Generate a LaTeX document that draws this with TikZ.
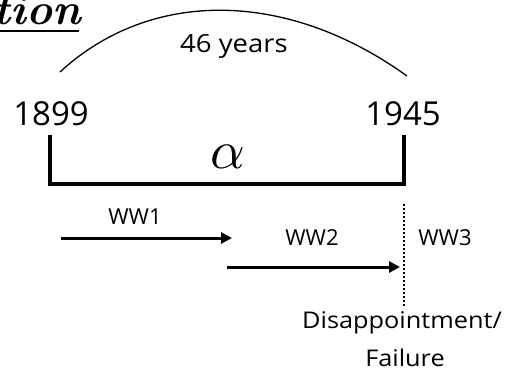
\documentclass[tikz,border=0pt]{standalone}
\usepackage{fontspec}
\usepackage{graphicx}
\setmainfont{Open Sans}
\newfontfamily\widesans[FakeStretch=1.1]{Open Sans}
\usetikzlibrary{arrows.meta}
\tikzset{
  lbl/.style={inner sep=0pt, font=\fontsize{22}{27}\selectfont},
  widelbl/.style={inner sep=0pt, font=\widesans\fontsize{23}{28}\selectfont},
  year/.style={inner sep=0pt, font=\fontsize{33}{38}\selectfont},
  tline/.style={line width=3pt, -{Triangle[length=11pt,width=11pt]}},
}
\begin{document}
\begin{tikzpicture}[x=1pt,y=-1pt]
\useasboundingbox (0,0) rectangle (525,372);
% clipped title
\node[inner sep=0pt, anchor=base east] (title) at (81,24) {\fontspec{Latin Modern Roman}\fontsize{44}{50}\selectfont\bfseries\itshape ption};
\coordinate (ulL) at (0,31);
\coordinate (ulR) at (79,31);
\draw[line width=1.3pt] (ulL) -- (ulR);
% arc
\coordinate (arcL) at (60,72);
\coordinate (arcR) at (407,76);
\draw[line width=1.3pt] (arcL) .. controls (150,-11) and (286,-11) .. (arcR);
\node[widelbl, anchor=base, font=\widesans\fontsize{25}{30}\selectfont] (yrs) at (234,52) {46 years};
% years
\node[year, anchor=base] (y1) at (51,125) {1899};
\node[year, anchor=base] (y2) at (403,125) {1945};
% bracket
\coordinate (bL) at (50,137);
\coordinate (bR) at (404,137);
\draw[line width=4pt, line cap=rect] (bL) -- (50,183.5) -- (404,183.5) -- (bR);
\node[inner sep=0pt] (alpha) at (227.5,157) {\scalebox{5.4}{$\alpha$}};
% arrows
\coordinate (a1s) at (61,238);
\coordinate (a1e) at (232,238);
\draw[tline] (a1s) -- (a1e);
\node[lbl, anchor=base] (ww1) at (135,224) {WW1};
\coordinate (a2s) at (227,267);
\coordinate (a2e) at (400,267);
\draw[tline] (a2s) -- (a2e);
\node[lbl, anchor=base] (ww2) at (312,245) {WW2};
\node[lbl, anchor=base] (ww3) at (445,245) {WW3};
\coordinate (dT) at (404,204);
\coordinate (dB) at (404,306);
\draw[line width=2.5pt, dash pattern=on 2pt off 2pt] (dT) -- (dB);
\node[widelbl, anchor=base] (dis) at (402,328) {Disappointment/};
\node[widelbl, anchor=base] (fail) at (405,366) {Failure};
\end{tikzpicture}
\end{document}
